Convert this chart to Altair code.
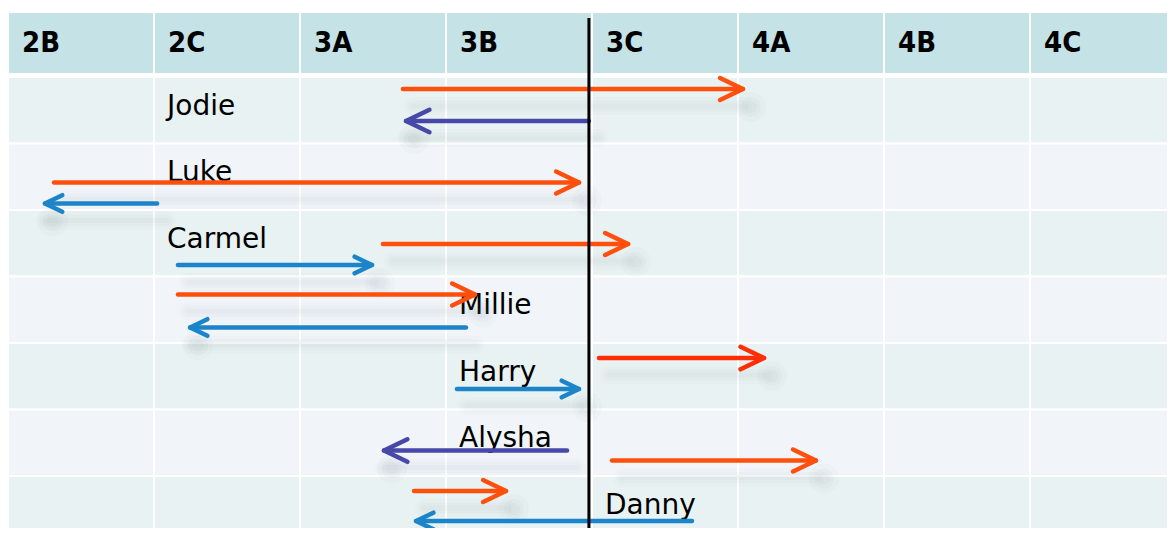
import altair as alt
import pandas as pd

# ---------------- data ----------------
columns = ["2B", "2C", "3A", "3B", "3C", "4A", "4B", "4C"]
names = ["Jodie", "Luke", "Carmel", "Millie", "Harry", "Alysha", "Danny"]
name_column = [1, 1, 1, 3, 3, 3, 4]          # column index where each name sits

arrow_row = [1, 1, 2, 2, 3, 3, 4, 4, 5, 5, 6, 6, 7, 7]
arrow_start = [2.705, 3.979, 0.315, 1.021, 2.568, 1.164, 1.164, 3.137,
               3.075, 4.048, 3.829, 4.137, 2.781, 4.685]
arrow_end = [5.034, 2.726, 3.911, 0.253, 4.247, 2.493, 3.199, 1.247,
             3.911, 5.178, 2.575, 5.534, 3.411, 2.795]
arrow_level = [0.18, 0.662, 0.586, 0.902, 0.511, 0.827, 0.271, 0.767,
               0.692, 0.226, 0.617, 0.767, 0.226, 0.677]
arrow_kind = ["orange", "purple", "orange", "blue", "orange", "blue", "orange", "blue",
              "blue", "red", "purple", "orange", "orange", "blue"]

target_level = [3.979]

# ---------------- styles ----------------
kind_color = {"orange": "#FF4F0C", "red": "#FF2E05", "blue": "#1C85C9", "purple": "#4848A8"}
kind_head = {"orange": 2100, "red": 2200, "purple": 2200, "blue": 1200}
odd_fill, even_fill, head_fill = "#E9F2F2", "#F1F5FA", "#C5E2E6"
FONT = "DejaVu Sans"
W, H = 1159, 520
COLW, ROWH = 146, 66.5

# ---------------- tables ----------------
cells = pd.DataFrame([
    {"x": c, "x2": c + 1, "y": r - 1, "y2": r, "fill": odd_fill if r % 2 else even_fill}
    for r in range(1, len(names) + 1) for c in range(len(columns))
])
header = pd.DataFrame({"x": list(range(len(columns))),
                       "x2": [i + 1 for i in range(len(columns))],
                       "label": columns})
labels = pd.DataFrame({"x": name_column,
                       "y": [i + 0.571 for i in range(len(names))],
                       "label": names})
arrows = pd.DataFrame({
    "start": arrow_start,
    "end": arrow_end,
    "y": [r - 1 + l for r, l in zip(arrow_row, arrow_level)],
    "color": [kind_color[k] for k in arrow_kind],
    "head": [kind_head[k] for k in arrow_kind],
})
arrows["angle"] = [0 if e > s else 180 for s, e in zip(arrows["start"], arrows["end"])]
target = pd.DataFrame({"x": target_level})

xs = alt.Scale(domain=[0, W / COLW], nice=False, zero=False)
ys = alt.Scale(domain=[-69 / ROWH, (H - 69) / ROWH], reverse=True, nice=False, zero=False)
X = lambda f: alt.X(f, type="quantitative", scale=xs, axis=None)
Y = lambda f: alt.Y(f, type="quantitative", scale=ys, axis=None)

cell_layer = alt.Chart(cells).mark_rect(stroke="white", strokeWidth=2, clip=True).encode(
    x=X("x"), x2="x2", y=Y("y"), y2="y2", fill=alt.Fill("fill:N", scale=None))

head_rect = alt.Chart(header).mark_rect(stroke="white", strokeWidth=2, color=head_fill, clip=True).encode(
    x=X("x"), x2="x2", y=alt.value(4), y2=alt.value(66))

head_text = alt.Chart(header).mark_text(
    align="left", baseline="alphabetic", dx=14, fontSize=29, fontWeight="bold",
    font="DejaVu Sans Condensed, DejaVu Sans", color="black").encode(
    x=X("x"), y=alt.value(44), text="label:N")

name_text = alt.Chart(labels).mark_text(
    align="left", baseline="alphabetic", dx=13, fontSize=28, font=FONT, color="black").encode(
    x=X("x"), y=Y("y"), text="label:N")

shadows = []
for sw, op in [(18, 0.025), (11, 0.03), (5, 0.035)]:
    shadows.append(alt.Chart(arrows).mark_rule(
        xOffset=10, yOffset=17, strokeWidth=sw, color="#6f8285", opacity=op,
        strokeCap="round", clip=True).encode(x=X("start"), x2="end", y=Y("y")))
for sz, op in [(900, 0.035), (400, 0.04), (150, 0.04)]:
    shadows.append(alt.Chart(arrows).mark_point(
        xOffset=8, yOffset=18, filled=True, shape="circle", size=sz, color="#6f8285",
        opacity=op, clip=True).encode(x=X("end"), y=Y("y")))

lines = alt.Chart(arrows).mark_rule(strokeWidth=4.5, strokeCap="round", clip=True).encode(
    x=X("start"), x2="end", y=Y("y"), color=alt.Color("color:N", scale=None))

heads = alt.Chart(arrows).mark_point(
    shape="M-1,-0.48L0,0L-1,0.48", filled=False, strokeWidth=4.5, opacity=1,
    strokeCap="round", strokeJoin="round", clip=True).encode(
    x=X("end"), y=Y("y"), angle=alt.Angle("angle:Q", scale=None),
    size=alt.Size("head:Q", scale=None), color=alt.Color("color:N", scale=None))

vline = alt.Chart(target).mark_rule(color="black", strokeWidth=3).encode(
    x=X("x"), y=alt.value(10), y2=alt.value(H))

chart = alt.layer(
    cell_layer, head_rect, head_text, name_text, *shadows, lines, heads, vline
).properties(width=W, height=H, padding=0).configure_view(strokeWidth=0)

chart.save("out.html", embed_options={"renderer": "svg", "actions": False})
